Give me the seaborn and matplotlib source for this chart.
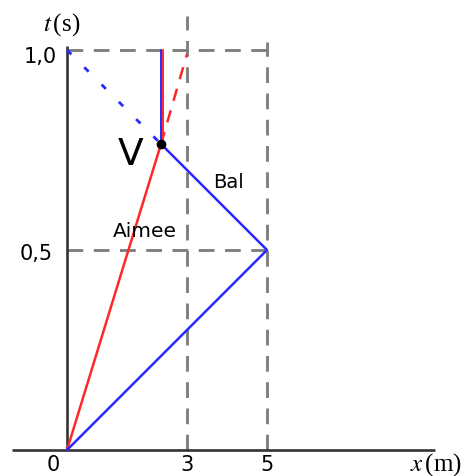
import matplotlib
matplotlib.use("Agg")
import matplotlib.pyplot as plt
import seaborn as sns

# positions (m) and times (s)
v_x, v_t = 2.35, 0.765

aimee_x = [0, v_x]
aimee_t = [0, v_t]
aimee_dash_x = [v_x, 3.0]
aimee_dash_t = [v_t, 0.99]
aimee_stop_x = [2.39, 2.39]
aimee_stop_t = [v_t, 1.0]

ball_x = [0, 5, v_x]
ball_t = [0, 0.5, v_t]
ball_dot_x = [0, 2.3]
ball_dot_t = [1.0, 0.77]
ball_stop_x = [v_x, v_x]
ball_stop_t = [v_t, 1.0]

x_ticks = [0, 3, 5]
x_tick_labels = ["0", "3", "5"]
t_ticks = [0.5, 1.0]
t_tick_labels = ["0,5", "1,0"]

sns.set_style("white")
plt.rcParams["mathtext.fontset"] = "stix"
plt.rcParams["text.color"] = "black"

fig = plt.figure(figsize=(4.65, 4.77), dpi=100)
ax = fig.add_axes([0, 0, 1, 1])
ax.set_xlim(-1.675, 9.95)
ax.set_ylim(-0.065, 1.1275)
ax.axis("off")

grey = "#808080"
dash = (0, (5.4, 3.6))
red = "#ff2828"
blue = "#2828ff"

# guide lines
for t in t_ticks:
    ax.plot([0, 5.2], [t, t], color=grey, lw=2.1, ls=dash, zorder=1)
ax.plot([3, 3], [0, 1.085], color=grey, lw=2.1, ls=dash, zorder=1)
ax.plot([5, 5], [0, 1.02], color=grey, lw=2.1, ls=dash, zorder=1)

# axes
ax.plot([-1.37, 9.2], [0, 0], color="#333333", lw=1.9, zorder=2, solid_capstyle="butt")
ax.plot([0, 0], [0, 1.01], color="#333333", lw=1.9, zorder=2, solid_capstyle="butt")

# movements
sns.lineplot(x=aimee_x, y=aimee_t, sort=False, estimator=None, color=red, lw=1.8, ax=ax, zorder=3)
sns.lineplot(x=aimee_dash_x, y=aimee_dash_t, sort=False, estimator=None, color=red, lw=1.8,
             ax=ax, zorder=3, linestyle=(0, (5, 4)))
sns.lineplot(x=aimee_stop_x, y=aimee_stop_t, sort=False, estimator=None, color=red, lw=1.4, ax=ax, zorder=3)
sns.lineplot(x=ball_x, y=ball_t, sort=False, estimator=None, color=blue, lw=1.8, ax=ax, zorder=3)
sns.lineplot(x=ball_dot_x, y=ball_dot_t, sort=False, estimator=None, color=blue, lw=2,
             ax=ax, zorder=3, linestyle=(0, (2.2, 6.6)))
sns.lineplot(x=ball_stop_x, y=ball_stop_t, sort=False, estimator=None, color=blue, lw=1.4, ax=ax, zorder=3)
ax.plot([v_x], [v_t], "o", color="black", ms=6, zorder=4)

# text
tick_font = dict(family="DejaVu Sans", size=15)
for x, lab in zip(x_ticks, x_tick_labels):
    xx = -0.35 if x == 0 else x
    ax.text(xx, -0.05, lab, ha="center", va="baseline", **tick_font)
ax.text(-0.35, 0.4775, t_tick_labels[0], ha="right", va="baseline", **tick_font)
ax.text(-0.25, 0.97, t_tick_labels[1], ha="right", va="baseline", **tick_font)

ax.text(8.575, -0.05, r"$x\,$(m)", ha="left", va="baseline", family="Liberation Serif", size=18)
ax.text(-0.6, 1.05, r"$t\,$(s)", ha="left", va="baseline", family="Liberation Serif", size=18)

ax.text(1.275, 0.715, "V", ha="left", va="baseline", family="DejaVu Sans", size=27)
ax.text(3.65, 0.6575, "Bal", ha="left", va="baseline", family="DejaVu Sans", size=14)
ax.text(1.15, 0.535, "Aimee", ha="left", va="baseline", family="DejaVu Sans", size=14.5)

fig.savefig("out.png", dpi=100)
